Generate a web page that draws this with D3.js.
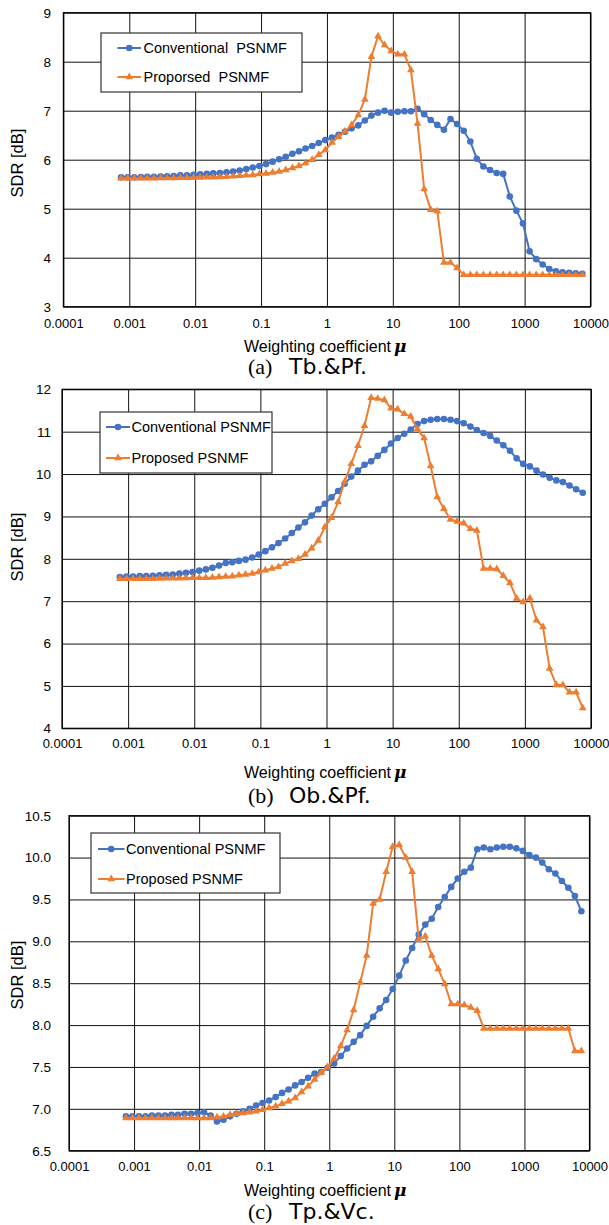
<!DOCTYPE html>
<html>
<head>
<meta charset="utf-8">
<script src="https://cdn.jsdelivr.net/npm/d3@7"></script>
<style>
  body { margin: 0; background: #fff; }
  svg text { font-family: "Liberation Sans", Arial, sans-serif; fill: #000; }
</style>
</head>
<body>
<svg id="chart" width="609" height="1225"></svg>
<script>
// weighting coefficient mu (x values, same for every panel)
const mu = [
  0.00075, 0.000944, 0.00119, 0.0015, 0.00188, 0.00237, 0.00299, 0.00376, 0.00473, 0.00596,
  0.0075, 0.00944, 0.0119, 0.015, 0.0188, 0.0237, 0.0299, 0.0376, 0.0473, 0.0596,
  0.075, 0.0944, 0.119, 0.15, 0.188, 0.237, 0.299, 0.376, 0.473, 0.596,
  0.75, 0.944, 1.19, 1.5, 1.88, 2.37, 2.99, 3.76, 4.73, 5.96,
  7.5, 9.44, 11.9, 15, 18.8, 23.7, 29.9, 37.6, 47.3, 59.6,
  75, 94.4, 119, 150, 188, 237, 299, 376, 473, 596,
  750, 944, 1190, 1500, 1880, 2370, 2990, 3760, 4730, 5960,
  7500
];

const xTicks = [0.0001, 0.001, 0.01, 0.1, 1, 10, 100, 1000, 10000];
const xTickLabels = ["0.0001", "0.001", "0.01", "0.1", "1", "10", "100", "1000", "10000"];

// (a) Tb.&Pf.
const aConventional = [
  5.64, 5.64, 5.64, 5.645, 5.65, 5.65, 5.655, 5.66, 5.665, 5.68,
  5.68, 5.69, 5.70, 5.71, 5.72, 5.73, 5.745, 5.76, 5.78, 5.81,
  5.84, 5.87, 5.91, 5.96, 6.01, 6.06, 6.12, 6.17, 6.23, 6.28,
  6.34, 6.40, 6.45, 6.51, 6.57, 6.64, 6.70, 6.80, 6.90, 6.96,
  7.00, 6.96, 6.98, 6.99, 6.99, 7.04, 6.93, 6.81, 6.71, 6.61,
  6.83, 6.73, 6.59, 6.37, 6.02, 5.86, 5.79, 5.73, 5.71, 5.25,
  4.96, 4.70, 4.13, 3.97, 3.86, 3.77, 3.72, 3.70, 3.69, 3.68,
  3.67
];
const aProposed = [
  5.62, 5.62, 5.62, 5.62, 5.62, 5.62, 5.625, 5.625, 5.625, 5.63,
  5.63, 5.63, 5.635, 5.64, 5.64, 5.645, 5.65, 5.66, 5.67, 5.68,
  5.69, 5.71, 5.72, 5.74, 5.76, 5.79, 5.83, 5.87, 5.93, 6.00,
  6.10, 6.20, 6.35, 6.47, 6.58, 6.71, 6.91, 7.23, 8.10, 8.52,
  8.34, 8.22, 8.15, 8.15, 7.83, 6.74, 5.40, 4.98, 4.95, 3.90,
  3.90, 3.79, 3.65, 3.65, 3.65, 3.65, 3.65, 3.65, 3.65, 3.65,
  3.65, 3.65, 3.65, 3.65, 3.65, 3.65, 3.65, 3.65, 3.65, 3.65,
  3.65
];
const aTicks = [3, 4, 5, 6, 7, 8, 9];

// (b) Ob.&Pf.
const bConventional = [
  7.57, 7.58, 7.58, 7.59, 7.59, 7.60, 7.61, 7.62, 7.63, 7.65,
  7.67, 7.69, 7.72, 7.75, 7.79, 7.84, 7.90, 7.92, 7.95, 7.98,
  8.03, 8.10, 8.18, 8.27, 8.37, 8.48, 8.61, 8.74, 8.86, 9.02,
  9.17, 9.30, 9.45, 9.60, 9.77, 9.94, 10.08, 10.22, 10.30, 10.43,
  10.57, 10.72, 10.85, 10.95, 11.05, 11.18, 11.25, 11.28, 11.30, 11.30,
  11.28, 11.25, 11.20, 11.12, 11.04, 10.97, 10.90, 10.79, 10.68, 10.55,
  10.37, 10.24, 10.18, 10.08, 9.99, 9.91, 9.85, 9.81, 9.73, 9.64,
  9.56
];
const bProposed = [
  7.53, 7.53, 7.53, 7.53, 7.53, 7.53, 7.535, 7.54, 7.54, 7.54,
  7.545, 7.55, 7.55, 7.555, 7.56, 7.57, 7.58, 7.59, 7.61, 7.63,
  7.65, 7.69, 7.73, 7.77, 7.81, 7.89, 7.95, 8.00, 8.10, 8.25,
  8.43, 8.75, 8.97, 9.34, 9.82, 10.24, 10.67, 11.14, 11.80, 11.78,
  11.75, 11.55, 11.53, 11.42, 11.36, 11.06, 10.85, 10.19, 9.46, 9.18,
  8.93, 8.88, 8.84, 8.71, 8.67, 7.77, 7.77, 7.76, 7.60, 7.43,
  7.06, 6.98, 7.07, 6.55, 6.39, 5.41, 5.02, 5.02, 4.85, 4.85,
  4.48
];
const bTicks = [4, 5, 6, 7, 8, 9, 10, 11, 12];

// (c) Tp.&Vc.
const cConventional = [
  6.91, 6.91, 6.91, 6.91, 6.92, 6.92, 6.92, 6.93, 6.93, 6.94,
  6.94, 6.95, 6.96, 6.92, 6.85, 6.87, 6.91, 6.94, 6.97, 7.00,
  7.04, 7.07, 7.10, 7.14, 7.19, 7.23, 7.28, 7.32, 7.37, 7.42,
  7.44, 7.49, 7.54, 7.63, 7.72, 7.80, 7.88, 7.99, 8.10, 8.20,
  8.30, 8.43, 8.59, 8.77, 8.92, 9.08, 9.20, 9.27, 9.41, 9.53,
  9.65, 9.75, 9.83, 9.88, 10.10, 10.12, 10.10, 10.12, 10.13, 10.13,
  10.11, 10.08, 10.03, 10.00, 9.94, 9.86, 9.81, 9.72, 9.64, 9.54,
  9.36
];
const cProposed = [
  6.89, 6.89, 6.89, 6.89, 6.89, 6.89, 6.89, 6.89, 6.89, 6.89,
  6.89, 6.89, 6.89, 6.89, 6.90, 6.91, 6.93, 6.94, 6.95, 6.96,
  6.97, 6.99, 7.01, 7.03, 7.06, 7.09, 7.13, 7.20, 7.27, 7.35,
  7.43, 7.50, 7.60, 7.75, 7.94, 8.18, 8.51, 8.83, 9.45, 9.50,
  9.83, 10.13, 10.15, 10.00, 9.83, 9.02, 9.06, 8.83, 8.67, 8.49,
  8.25, 8.25, 8.24, 8.21, 8.17, 7.96, 7.96, 7.96, 7.96, 7.96,
  7.96, 7.96, 7.96, 7.96, 7.96, 7.96, 7.96, 7.96, 7.96, 7.69,
  7.69
];
const cTicks = [6.5, 7.0, 7.5, 8.0, 8.5, 9.0, 9.5, 10.0, 10.5];

const seriesNames = ["Conventional PSNMF", "Proposed PSNMF"];

const BLUE = "#4472C4", ORANGE = "#ED7D31";

const panels = [
  {
    conv: aConventional, prop: aProposed, yTicks: aTicks, fmt: d3.format("d"),
    names: ["Conventional  PSNMF", "Proporsed  PSNMF"],
    tag: "(a)", label: "Tb.&Pf.",
    left: 63.4, right: 590.5, top: 12.7, bottom: 306.7,
    tickPad: 12, titleY: 352, capY: 374, yTitleY: 163,
    leg: { x: 101, y: 33, w: 201, h: 59, x1: 117.5, x2: 141, tx: 143.5, rows: [48, 77] }
  },
  {
    conv: bConventional, prop: bProposed, yTicks: bTicks, fmt: d3.format("d"),
    names: seriesNames,
    tag: "(b)", label: "Ob.&Pf.",
    left: 62, right: 591, top: 389.3, bottom: 728.3,
    tickPad: 10.5, titleY: 778, capY: 803, yTitleY: 547,
    leg: { x: 100, y: 412, w: 172, h: 61, x1: 106, x2: 130, tx: 131.5, rows: [427, 458] }
  },
  {
    conv: cConventional, prop: cProposed, yTicks: cTicks, fmt: d3.format(".1f"),
    names: seriesNames,
    tag: "(c)", label: "Tp.&Vc.",
    left: 69, right: 589.5, top: 815.7, bottom: 1150.7,
    tickPad: 11.5, titleY: 1196, capY: 1219, yTitleY: 975,
    leg: { x: 91, y: 833, w: 189, h: 60, x1: 98, x2: 124.5, tx: 126, rows: [849, 879] }
  }
];

const svg = d3.select("#chart");
const tri = d3.symbol().type(d3.symbolTriangle).size(26);

function marker(g, kind, cx, cy) {
  if (kind === "circle") {
    g.append("circle").attr("cx", cx).attr("cy", cy).attr("r", 3.3).attr("fill", BLUE);
  } else {
    g.append("path").attr("d", tri).attr("transform", `translate(${cx},${cy})`).attr("fill", ORANGE);
  }
}

panels.forEach(p => {
  const w = p.right - p.left, h = p.bottom - p.top;
  const x = d3.scaleLog().domain([0.0001, 10000]).range([p.left, p.right]);
  const y = d3.scaleLinear().domain([p.yTicks[0], p.yTicks[p.yTicks.length - 1]]).range([p.bottom, p.top]);

  // x gridlines + labels
  const gx = svg.append("g")
    .attr("transform", `translate(0,${p.bottom})`)
    .call(d3.axisBottom(x).tickValues(xTicks).tickFormat((d, i) => xTickLabels[i])
      .tickSize(-h).tickPadding(p.tickPad));
  gx.select(".domain").remove();
  gx.selectAll("line").attr("stroke", "#111").attr("stroke-width", 1);
  gx.selectAll("text").attr("font-size", 13);

  // y gridlines + labels
  const gy = svg.append("g")
    .attr("transform", `translate(${p.left},0)`)
    .call(d3.axisLeft(y).tickValues(p.yTicks).tickFormat(p.fmt)
      .tickSize(-w).tickPadding(p.left - 51));
  gy.select(".domain").remove();
  gy.selectAll("line").attr("stroke", "#111").attr("stroke-width", 1);
  gy.selectAll("text").attr("font-size", 13.5);

  svg.append("rect").attr("x", p.left).attr("y", p.top).attr("width", w).attr("height", h)
    .attr("fill", "none").attr("stroke", "#000").attr("stroke-width", 1.2);

  const line = d3.line().x((d, i) => x(mu[i])).y(d => y(d));

  // conventional
  svg.append("path").datum(p.conv).attr("d", line)
    .attr("fill", "none").attr("stroke", BLUE).attr("stroke-width", 2);
  svg.append("g").selectAll("circle").data(p.conv).join("circle")
    .attr("cx", (d, i) => x(mu[i])).attr("cy", d => y(d)).attr("r", 3.3).attr("fill", BLUE);

  // proposed
  svg.append("path").datum(p.prop).attr("d", line)
    .attr("fill", "none").attr("stroke", ORANGE).attr("stroke-width", 2);
  svg.append("g").selectAll("path").data(p.prop).join("path")
    .attr("d", tri)
    .attr("transform", (d, i) => `translate(${x(mu[i])},${y(d)})`)
    .attr("fill", ORANGE);

  // legend
  const L = p.leg;
  const lg = svg.append("g");
  lg.append("rect").attr("x", L.x).attr("y", L.y).attr("width", L.w).attr("height", L.h)
    .attr("fill", "#fff").attr("stroke", "#333").attr("stroke-width", 1.2);
  [[BLUE, "circle"], [ORANGE, "triangle"]].forEach(([col, kind], i) => {
    const ry = L.rows[i];
    lg.append("line").attr("x1", L.x1).attr("x2", L.x2).attr("y1", ry).attr("y2", ry)
      .attr("stroke", col).attr("stroke-width", 2);
    marker(lg, kind, (L.x1 + L.x2) / 2, ry);
    lg.append("text").attr("x", L.tx).attr("y", ry).attr("dy", "0.35em")
      .attr("font-size", 14.5).style("white-space", "pre").text(p.names[i]);
  });

  // axis titles
  const xt = svg.append("text").attr("x", 244).attr("y", p.titleY).attr("font-size", 16);
  xt.append("tspan").text("Weighting coefficient");
  xt.append("tspan").attr("dx", 3)
    .style("font-family", "'DejaVu Serif', serif").attr("font-style", "italic")
    .attr("font-weight", "bold").attr("font-size", 17).text("μ");

  svg.append("text")
    .attr("transform", `translate(23,${p.yTitleY}) rotate(-90)`)
    .attr("text-anchor", "middle").attr("font-size", 16.5).text("SDR [dB]");

  // caption
  svg.append("text").attr("x", 248).attr("y", p.capY)
    .style("font-family", "'Liberation Serif', serif").attr("font-size", 22).text(p.tag);
  svg.append("text").attr("x", 289).attr("y", p.capY)
    .style("font-family", "'DejaVu Sans', sans-serif").attr("font-size", 22).text(p.label);
});
</script>
</body>
</html>
